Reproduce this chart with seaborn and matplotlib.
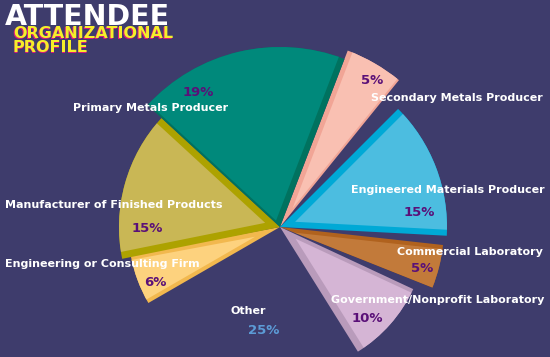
import numpy as np
import matplotlib.pyplot as plt
import seaborn as sns

# --- data --------------------------------------------------------------------
categories = ["Secondary Metals Producer", "Engineered Materials Producer",
              "Commercial Laboratory", "Government/Nonprofit Laboratory", "Other",
              "Engineering or Consulting Firm", "Manufacturer of Finished Products",
              "Primary Metals Producer"]
shares = [5, 15, 5, 10, 25, 6, 15, 19]
pct_labels = [f"{v}%" for v in shares]

# --- look & layout (pixels, y from top) --------------------------------------
W, H = 550, 357
BG = "#3e3c6c"
radii = [189, 167, 164, 147, 0, 152, 161, 180]
top_colors = ["#f9c0b2", "#4cbde0", "#c27a3a", "#d5b5d5", "none", "#fdd27e", "#c9b755", "#00897b"]
side_colors = ["#f1a596", "#00a9d6", "#b0621e", "#b99bbb", "none", "#f2b84e", "#ada200", "#00725f"]
# small angular trims of each wedge (deg, low side / high side) -> gaps between slices
trims = [(0, 0), (0, 6), (-0.7, 3.3), (-1, 4), (0, 0), (-0.8, 3), (0, 0), (0, 0)]
# width (px) of the darker side strip along the low / high radial edge
strips = [(2, 5), (6, 7), (0, 4), (7, 4), (0, 0), (5, 4), (7, 7), (6, 2)]
label_pos = [(457, 98), (448, 190), (470, 252), (438, 300), (248, 311),
             (102, 264), (114, 205), (151, 108)]
pct_pos = [(372, 80), (419, 213), (422, 269), (367, 318), (264, 330),
           (155, 282), (147, 228), (198, 92)]
pct_colors = ["#5a1078"] * 4 + ["#5c9bd6"] + ["#5a1078"] * 3

sns.set_theme(style="white")
plt.rcParams["font.family"] = ["DejaVu Sans"]

fig = plt.figure(figsize=(W / 100, H / 100), dpi=100, facecolor=BG)
ax = fig.add_axes([0, 0, 1, 1])
ax.set_facecolor(BG)

center = (280, H - 227)
side, _ = ax.pie(shares, startangle=69, counterclock=False, colors=side_colors,
                 center=center, radius=1, wedgeprops=dict(linewidth=0))
top, _ = ax.pie(shares, startangle=69, counterclock=False, colors=top_colors,
                center=center, radius=1, wedgeprops=dict(linewidth=0))
for s, t, r, (lo, hi), (a, b) in zip(side, top, radii, trims, strips):
    t1, t2 = s.theta1 + lo, s.theta2 - hi
    for w in (s, t):
        w.set_radius(r)
        w.set_theta1(t1)
        w.set_theta2(t2)
    # shift of the top face so that strips of width a / b show on each edge
    n1 = np.deg2rad(t1 + 90)
    n2 = np.deg2rad(t2 - 90)
    m = np.array([[np.cos(n1), np.sin(n1)], [np.cos(n2), np.sin(n2)]])
    v = np.linalg.solve(m, [a, b]) if (a or b) else np.zeros(2)
    t.set_center((center[0] + v[0], center[1] + v[1]))
    t.set_clip_on(True)
    t.set_clip_path(s)

for cat, (x, y) in zip(categories, label_pos):
    ax.text(x, H - y, cat, ha="center", va="center", color="white",
            fontsize=8, fontweight="bold")
for lab, (x, y), c in zip(pct_labels, pct_pos, pct_colors):
    ax.text(x, H - y, lab, ha="center", va="center", color=c,
            fontsize=9.5, fontweight="bold")

# title block
ax.text(5, H - 25, "ATTENDEE", ha="left", va="baseline", color="white",
        fontsize=20.5, fontweight="heavy")
for txt, yb in [("ORGANIZATIONAL", 38), ("PROFILE", 52)]:
    ax.text(12, H - yb - 1.2, txt, ha="left", va="baseline", color="#d8187e",
            fontsize=11.5, fontweight="bold")
    ax.text(13, H - yb, txt, ha="left", va="baseline", color="#f5ee2a",
            fontsize=11.5, fontweight="bold")

ax.set_xlim(0, W)
ax.set_ylim(0, H)
ax.set_aspect("equal")
ax.axis("off")

fig.savefig("out.png", dpi=100, facecolor=BG)
